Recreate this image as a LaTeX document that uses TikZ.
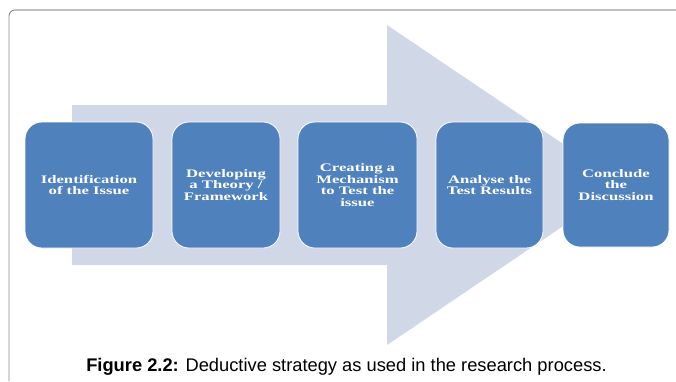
\documentclass[tikz,border=0pt]{standalone}
\usepackage{fontspec}
\setmainfont{Liberation Sans}
\newfontfamily\boxfont[FakeStretch=1.45]{Liberation Serif}
\definecolor{arrowfill}{HTML}{D0D8E8}
\definecolor{stepblue}{HTML}{4F81BD}
\begin{document}
\begin{tikzpicture}[x=1pt,y=-1pt,
  stepbox/.style={draw=white, line width=0.8pt, fill=stepblue, rounded corners=17pt,
    text=white, align=center, inner sep=0pt,
    font=\boxfont\bfseries\fontsize{11.5}{11.5}\selectfont},
  frameline/.style={line width=1.2pt}]
\useasboundingbox (0,0) rectangle (676,381);
% page frame
\draw[frameline, color=black!25] (15,10) -- (676,10);
\draw[line width=0.9pt, color=black!45] (9,381) -- (9,16) arc[start angle=180, end angle=270, radius=6] -- (15,10);
% background arrow
\fill[arrowfill] (72,105) -- (387,105) -- (387,25) -- (624,185) -- (387,345) -- (387,265) -- (72,265) -- cycle;
% process steps
\node[stepbox, minimum width=128pt, minimum height=126pt] (s1) at (89,185) {Identification\\of the Issue};
\node[stepbox, minimum width=108pt, minimum height=126pt] (s2) at (226,185) {Developing\\a Theory /\\Framework};
\node[stepbox, minimum width=119pt, minimum height=126pt] (s3) at (357.5,185) {Creating a\\Mechanism\\to Test the\\issue};
\node[stepbox, minimum width=107pt, minimum height=126pt] (s4) at (489.5,185) {Analyse the\\Test Results};
\node[stepbox, minimum width=106pt, minimum height=124pt] (s5) at (616,185) {Conclude\\the\\Discussion};
% caption
\node[anchor=base, inner sep=0pt, font=\fontsize{18.3}{20}\selectfont] (cap) at (346.5,371)
  {\textbf{Figure 2.2:} Deductive strategy as used in the research process.};
\end{tikzpicture}
\end{document}
